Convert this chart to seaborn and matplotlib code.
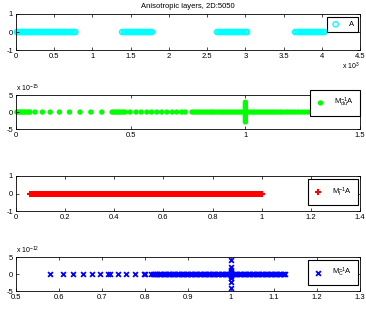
import matplotlib
matplotlib.use("Agg")
import matplotlib.pyplot as plt
import seaborn as sns
import pandas as pd
from matplotlib.ticker import FuncFormatter

# eigenvalues of A (real parts, raw units; axis shown as x 10^3)
eig_a = [
    15, 30, 48, 65, 85, 104, 122, 141, 160, 181, 200, 219, 240, 258, 279,
    300, 318, 339, 360, 378, 400, 421, 440, 459, 480, 501, 520, 540, 561,
    580, 600, 619, 640, 660, 679, 700, 720, 741, 760, 778,
    1390, 1411, 1430, 1449, 1470, 1490, 1511, 1530, 1550, 1569, 1590, 1610,
    1629, 1650, 1670, 1690, 1709, 1730, 1750, 1769, 1780,
    2630, 2650, 2669, 2690, 2710, 2731, 2750, 2770, 2789, 2810, 2830, 2850,
    2869, 2890, 2910, 2930, 2951, 2970, 2990, 3009, 3020,
    3650, 3670, 3690, 3709, 3730, 3750, 3771, 3790, 3810, 3829, 3850, 3870,
    3890, 3911, 3930, 3950, 3970, 3990, 4010, 4030,
]

# eigenvalues of M_du^-1 A on the real axis
eig_du = [
    0.005, 0.012, 0.020, 0.028, 0.036, 0.045, 0.055, 0.062,
    0.084, 0.116, 0.150, 0.190, 0.234, 0.280, 0.327, 0.375,
    0.420, 0.428, 0.437, 0.446, 0.455, 0.466, 0.476,
    0.498, 0.524, 0.546, 0.571, 0.592, 0.614, 0.636, 0.658, 0.682, 0.701,
    0.723, 0.738,
    0.768, 0.779, 0.790, 0.801, 0.812, 0.824, 0.835, 0.846, 0.857, 0.868,
    0.880, 0.891, 0.902, 0.913, 0.924, 0.936, 0.947, 0.958, 0.969, 0.980,
    0.991, 1.000, 1.009, 1.020, 1.031, 1.042, 1.053, 1.064, 1.076, 1.087,
    1.098, 1.109, 1.120, 1.131, 1.142, 1.154, 1.165,
    1.178, 1.192, 1.205, 1.219, 1.232, 1.246, 1.259, 1.273, 1.286, 1.300,
    1.313, 1.327, 1.340, 1.354, 1.367, 1.381, 1.394, 1.408, 1.421, 1.433,
]
# imaginary parts of the cluster at 1
eig_du_imag = [2.9e-15, 2.4e-15, 1.9e-15, 1.4e-15, 0.9e-15, 0.4e-15,
               -0.4e-15, -0.9e-15, -1.4e-15, -1.9e-15, -2.4e-15, -2.9e-15]

# eigenvalues of M_I^-1 A
eig_i = [
    0.060, 0.066, 0.071, 0.077, 0.083, 0.088, 0.094, 0.100, 0.106, 0.112,
    0.118, 0.124, 0.130, 0.135, 0.141, 0.147, 0.153, 0.159, 0.165, 0.171,
    0.177, 0.182, 0.188, 0.194, 0.200, 0.206, 0.212, 0.218, 0.224, 0.229,
    0.235, 0.241, 0.247, 0.253, 0.259, 0.265, 0.271, 0.276, 0.282, 0.288,
    0.294, 0.300, 0.306, 0.312, 0.318, 0.323, 0.329, 0.335, 0.341, 0.347,
    0.353, 0.359, 0.365, 0.370, 0.376, 0.382, 0.388, 0.394, 0.400, 0.406,
    0.412, 0.417, 0.423, 0.429, 0.435, 0.441, 0.447, 0.453, 0.459, 0.464,
    0.470, 0.476, 0.482, 0.488, 0.494, 0.500, 0.506, 0.511, 0.517, 0.523,
    0.529, 0.535, 0.541, 0.547, 0.553, 0.558, 0.564, 0.570, 0.576, 0.582,
    0.588, 0.594, 0.600, 0.605, 0.611, 0.617, 0.623, 0.629, 0.635, 0.641,
    0.647, 0.652, 0.658, 0.664, 0.670, 0.676, 0.682, 0.688, 0.694, 0.699,
    0.705, 0.711, 0.717, 0.723, 0.729, 0.735, 0.741, 0.746, 0.752, 0.758,
    0.764, 0.770, 0.776, 0.782, 0.788, 0.793, 0.799, 0.805, 0.811, 0.817,
    0.823, 0.829, 0.835, 0.840, 0.846, 0.852, 0.858, 0.864, 0.870, 0.876,
    0.882, 0.887, 0.893, 0.899, 0.905, 0.911, 0.917, 0.923, 0.929, 0.934,
    0.940, 0.946, 0.952, 0.958, 0.964, 0.970, 0.976, 0.981, 0.987, 0.992,
    0.996, 1.000, 1.003,
]

# eigenvalues of M_C^-1 A
eig_c = [
    0.580, 0.609, 0.634, 0.656, 0.677, 0.696, 0.715, 0.718, 0.737, 0.756,
    0.777, 0.797, 0.801,
    0.815, 0.818, 0.821, 0.824, 0.826, 0.829, 0.832, 0.835, 0.838, 0.841,
    0.844, 0.847, 0.850, 0.853, 0.856, 0.859, 0.862, 0.865, 0.868, 0.871,
    0.874, 0.877, 0.880, 0.883, 0.886, 0.889, 0.892, 0.895, 0.898, 0.901,
    0.904, 0.907, 0.910, 0.913, 0.916, 0.919, 0.922, 0.925, 0.928, 0.931,
    0.934, 0.937, 0.940, 0.943, 0.946, 0.949, 0.952, 0.955, 0.958, 0.961,
    0.964, 0.967, 0.970, 0.973, 0.976, 0.979, 0.982, 0.985, 0.988, 0.991,
    0.994, 0.997, 1.000, 1.003, 1.006, 1.009, 1.012, 1.015, 1.018, 1.021,
    1.024, 1.027, 1.030, 1.033, 1.036, 1.039, 1.042, 1.045, 1.048, 1.051,
    1.054, 1.057, 1.060, 1.063, 1.066, 1.069, 1.072, 1.075, 1.078, 1.081,
    1.084, 1.087, 1.090, 1.093, 1.096, 1.099, 1.102, 1.105, 1.108, 1.111,
    1.114, 1.117, 1.120, 1.123, 1.125,
]
eig_c_imag = [4.2e-12, 2.2e-12, 1.2e-12, 0.6e-12, 0.3e-12,
              -0.3e-12, -0.6e-12, -1.2e-12, -2.3e-12, -4.2e-12]

plt.rcParams["font.family"] = ["Liberation Sans", "DejaVu Sans"]
plt.rcParams["axes.unicode_minus"] = False
plt.rcParams["mathtext.fontset"] = "custom"
plt.rcParams["mathtext.rm"] = "Liberation Sans"
plt.rcParams["mathtext.it"] = "Liberation Sans"

FS = 5.5
fig = plt.figure(figsize=(3.66, 3.17), dpi=100)

# axes rectangles (left, bottom, width, height) in figure fraction
rects = [
    (0.043, 0.842, 0.941, 0.114),
    (0.043, 0.593, 0.941, 0.107),
    (0.043, 0.334, 0.941, 0.111),
    (0.043, 0.082, 0.941, 0.107),
]
axes = [fig.add_axes(r) for r in rects]


def style_axis(ax, xlim, xticks, ylim, yticks):
    ax.set_xlim(*xlim)
    ax.set_ylim(*ylim)
    ax.set_xticks(xticks)
    ax.set_yticks(yticks)
    ax.tick_params(direction="in", top=True, right=True, length=2.5,
                   width=0.5, labelsize=FS, pad=2)
    for s in ax.spines.values():
        s.set_linewidth(0.6)
        s.set_color("black")
    ax.set_xlabel("")
    ax.set_ylabel("")


def add_legend(ax, anchor, pad=0.5):
    ax.legend(loc="upper right", bbox_to_anchor=anchor,
              bbox_transform=fig.transFigure, fontsize=FS, frameon=True,
              fancybox=False, edgecolor="black", framealpha=1,
              handlelength=1.2, handletextpad=1.2, borderpad=pad,
              borderaxespad=0).get_frame().set_linewidth(0.8)


# panel 1: A
ax = axes[0]
df = pd.DataFrame({"re": eig_a, "im": [0.0] * len(eig_a)})
sns.scatterplot(data=df, x="re", y="im", ax=ax, marker="o", s=14,
                color="cyan", facecolor="none", edgecolor="cyan",
                linewidth=1.0, label="A", clip_on=False)
style_axis(ax, (0, 4500), range(0, 4501, 500), (-1, 1), [-1, 0, 1])
ax.xaxis.set_major_formatter(FuncFormatter(lambda v, p: f"{v / 1e3:g}"))
ax.set_title("Anisotropic layers, 2D:5050", fontsize=FS, pad=4)
ax.text(1.0, -0.3, "x 10$^{3}$", transform=ax.transAxes, fontsize=FS - 0.5,
        ha="right", va="top")
add_legend(ax, (0.979, 0.946))

# panel 2: M_du^-1 A
ax = axes[1]
df = pd.DataFrame({
    "re": eig_du + [1.0] * len(eig_du_imag),
    "im": [0.0] * len(eig_du) + eig_du_imag,
})
sns.scatterplot(data=df, x="re", y="im", ax=ax, marker="o", s=15,
                color="#00ff00", edgecolor="none", linewidth=0,
                label=r"M$_{du}^{-1}$A", clip_on=False)
style_axis(ax, (0, 1.5), [0, 0.5, 1, 1.5], (-5e-15, 5e-15),
           [-5e-15, 0, 5e-15])
ax.xaxis.set_major_formatter(FuncFormatter(lambda v, p: f"{v:g}"))
ax.yaxis.set_major_formatter(FuncFormatter(lambda v, p: f"{v * 1e15:g}"))
ax.text(0.0, 1.03, "x 10$^{-15}$", transform=ax.transAxes, fontsize=FS - 0.5,
        ha="left", va="bottom")
add_legend(ax, (0.984, 0.716), pad=0.8)

# panel 3: M_I^-1 A
ax = axes[2]
df = pd.DataFrame({"re": eig_i, "im": [0.0] * len(eig_i)})
sns.scatterplot(data=df, x="re", y="im", ax=ax, marker="+", s=24,
                color="red", linewidth=1.5, label=r"M$_{I}^{-1}$A")
style_axis(ax, (0, 1.4), [0, 0.2, 0.4, 0.6, 0.8, 1.0, 1.2, 1.4], (-1, 1),
           [-1, 0, 1])
ax.xaxis.set_major_formatter(FuncFormatter(lambda v, p: f"{v:g}"))
add_legend(ax, (0.978, 0.435), pad=0.8)

# panel 4: M_C^-1 A
ax = axes[3]
df = pd.DataFrame({
    "re": eig_c + [1.0] * len(eig_c_imag),
    "im": [0.0] * len(eig_c) + eig_c_imag,
})
sns.scatterplot(data=df, x="re", y="im", ax=ax, marker="x", s=12,
                color="blue", linewidth=1.3, label=r"M$_{C}^{-1}$A",
                clip_on=False)
style_axis(ax, (0.5, 1.3), [0.5, 0.6, 0.7, 0.8, 0.9, 1.0, 1.1, 1.2, 1.3],
           (-5e-12, 5e-12), [-5e-12, 0, 5e-12])
ax.xaxis.set_major_formatter(FuncFormatter(lambda v, p: f"{v:g}"))
ax.yaxis.set_major_formatter(FuncFormatter(lambda v, p: f"{v * 1e12:g}"))
ax.text(0.0, 1.03, "x 10$^{-12}$", transform=ax.transAxes, fontsize=FS - 0.5,
        ha="left", va="bottom")
add_legend(ax, (0.978, 0.180), pad=0.8)

fig.savefig("out.png", dpi=100, facecolor="white")
